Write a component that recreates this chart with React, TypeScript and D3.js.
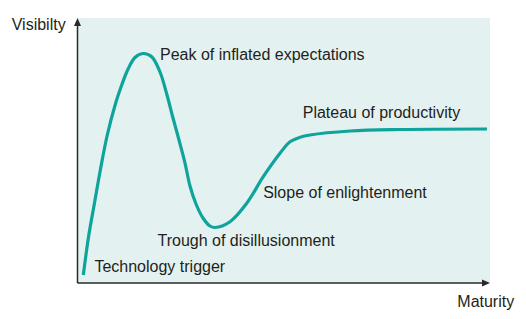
import React from "react";
import * as d3 from "d3";

// Hype-cycle curve, in data units (maturity 0..100, visibility 0..100)
const maturity = [1.41, 2.67, 4.12, 5.58, 7.22, 9.33, 10.72, 12.32, 13.94, 15.81, 17.99, 20.0, 21.7, 23.15, 24.61, 26.06, 27.27, 28.73, 30.42, 32.12, 33.33, 36.97, 41.02, 45.04, 49.09, 51.52, 53.94, 56.36, 66.06, 78.18, 99.27];
const visibility = [3.02, 17.36, 30.19, 43.02, 55.85, 68.3, 74.72, 80.94, 85.09, 86.6, 85.4, 79.62, 70.94, 62.26, 53.96, 45.28, 36.6, 29.81, 24.53, 21.51, 20.94, 23.13, 30.08, 40.11, 48.94, 53.32, 54.98, 55.85, 57.36, 57.92, 58.11];

const phaseLabels = [
  "Peak of inflated expectations",
  "Plateau of productivity",
  "Slope of enlightenment",
  "Trough of disillusionment",
  "Technology trigger",
];
const phaseLabelX = [20.0, 54.6, 45.0, 19.4, 4.1];
const phaseLabelY = [84.2, 62.3, 32.1, 14.0, 4.2];

const yAxisTitle = "Visibilty";
const xAxisTitle = "Maturity";

const W = 526;
const H = 319;
const left = 77.5;
const right = 490;
const top = 18;
const bottom = 283;

const TEXT = "#231f20";
const FONT = "'Liberation Sans', Arial, Helvetica, sans-serif";

export default function App() {
  const x = d3.scaleLinear().domain([0, 100]).range([left, right]);
  const y = d3.scaleLinear().domain([0, 100]).range([bottom, top]);

  const pts: [number, number][] = maturity.map((m, i) => [m, visibility[i]]);
  const line = d3
    .line<[number, number]>()
    .x((d) => x(d[0]))
    .y((d) => y(d[1]))
    .curve(d3.curveCatmullRom.alpha(0.5));

  const x0 = x(0);
  const y0 = y(0);
  const xEnd = x(100);
  const yEnd = y(100);

  return (
    <svg
      width={W}
      height={H}
      style={{ position: "absolute", left: 0, top: 0, display: "block" }}
      fontFamily={FONT}
    >
      <rect x={0} y={0} width={W} height={H} fill="#ffffff" />
      <rect x={x0} y={yEnd} width={xEnd - x0} height={y0 - yEnd} fill="#e3f1f1" />
      <path d={line(pts) ?? ""} fill="none" stroke="#0ea39b" strokeWidth={3.2} strokeLinecap="butt" strokeLinejoin="round" />

      {/* axes */}
      <line x1={x0} y1={y0} x2={x0} y2={yEnd + 6} stroke="#2a2a2a" strokeWidth={1.5} />
      <path d={`M${x0},${yEnd} L${x0 - 3.5},${yEnd + 8} L${x0 + 3.5},${yEnd + 8} Z`} fill="#2a2a2a" />
      <line x1={x0} y1={y0} x2={xEnd - 6} y2={y0} stroke="#2a2a2a" strokeWidth={1.5} />
      <path d={`M${xEnd},${y0} L${xEnd - 8},${y0 - 3.5} L${xEnd - 8},${y0 + 3.5} Z`} fill="#2a2a2a" />

      {phaseLabels.map((t, i) => (
        <text key={t} x={x(phaseLabelX[i])} y={y(phaseLabelY[i])} fontSize={16} fill={TEXT}>
          {t}
        </text>
      ))}

      <text x={11.7} y={30} fontSize={16} fill={TEXT}>
        {yAxisTitle}
      </text>
      <text x={457.3} y={307} fontSize={16} fill={TEXT}>
        {xAxisTitle}
      </text>
    </svg>
  );
}
